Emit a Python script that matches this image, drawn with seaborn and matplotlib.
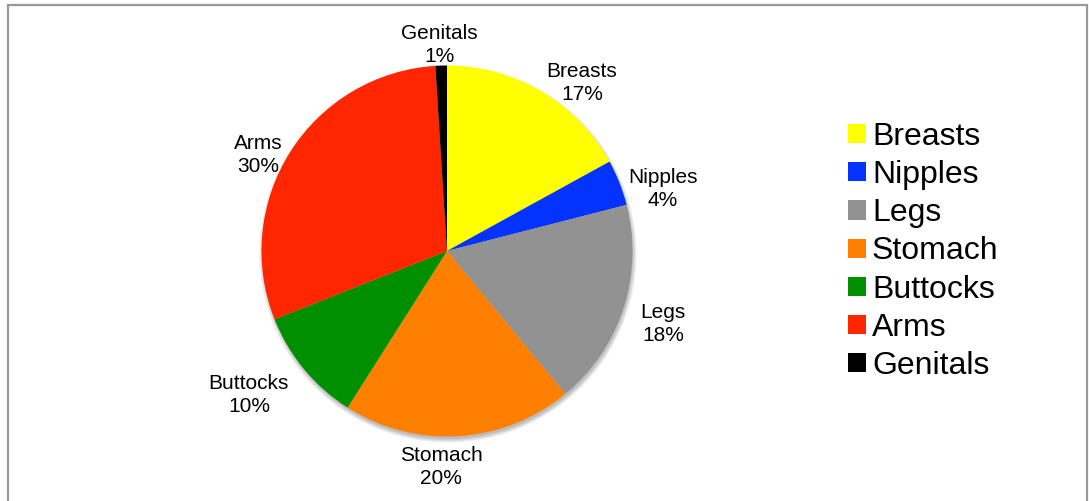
import matplotlib
matplotlib.use("Agg")
import matplotlib.pyplot as plt
from matplotlib.patches import Circle
import numpy as np
import seaborn as sns

# Body areas and their share of responses (percent)
categories = ["Breasts", "Nipples", "Legs", "Stomach", "Buttocks", "Arms", "Genitals"]
shares = [17, 4, 18, 20, 10, 30, 1]
slice_colors = ["#FFFF00", "#0433FF", "#929292", "#FF7F00", "#008F00", "#FF2600", "#000000"]

# Label placement: distance from centre (in radii) and angular nudge (degrees)
label_dist = [1.162, 1.211, 1.229, 1.165, 1.320, 1.143, 1.112]
label_nudge = [-8.2, -5.6, -0.7, -5.2, -3.6, 5.5, 0.4]

sns.set_theme(style="white")
plt.rcParams["font.family"] = ["Liberation Sans", "DejaVu Sans"]
plt.rcParams["text.color"] = "black"

W, H = 1089, 501
fig = plt.figure(figsize=(W / 100, H / 100), dpi=100)
ax = fig.add_axes([0, 0, 1, 1])

cx, cy, R = 447.0, H - 251.0, 185.5

# soft drop shadow under the pie
for k in range(8):
    ax.add_patch(Circle((cx + 1, cy - 3), R - 1 + 0.6 * k, facecolor="black",
                        alpha=0.035, lw=0, zorder=0))

palette = sns.color_palette(slice_colors)
wedges, _ = ax.pie(shares, colors=palette, startangle=90, counterclock=False,
                   center=(cx, cy), radius=R, wedgeprops=dict(linewidth=0))

for w, name, v, d, n in zip(wedges, categories, shares, label_dist, label_nudge):
    ang = np.deg2rad((w.theta1 + w.theta2) / 2 + n)
    ax.text(cx + d * R * np.cos(ang), cy + d * R * np.sin(ang), f"{name}\n{v}%",
            ha="center", va="center", fontsize=15, linespacing=1.3, color="black")

leg = ax.legend(wedges, categories, loc="upper left",
                bbox_to_anchor=(848 / W, 1 - 122 / H), bbox_transform=fig.transFigure,
                frameon=False, fontsize=23, handlelength=0.55, handleheight=0.55,
                handletextpad=0.2, labelspacing=0.255, borderpad=0, borderaxespad=0)
for t in leg.get_texts():
    t.set_color("black")

# chart area border (open at the bottom)
ax.plot([8, 8, 1087, 1087], [-5, H - 5, H - 5, -5], color="#999999", lw=1.6,
        clip_on=False, solid_joinstyle="miter")

ax.set_xlim(0, W)
ax.set_ylim(0, H)
ax.set_aspect("equal")
ax.axis("off")

fig.savefig("out.png", dpi=100, facecolor="white")
